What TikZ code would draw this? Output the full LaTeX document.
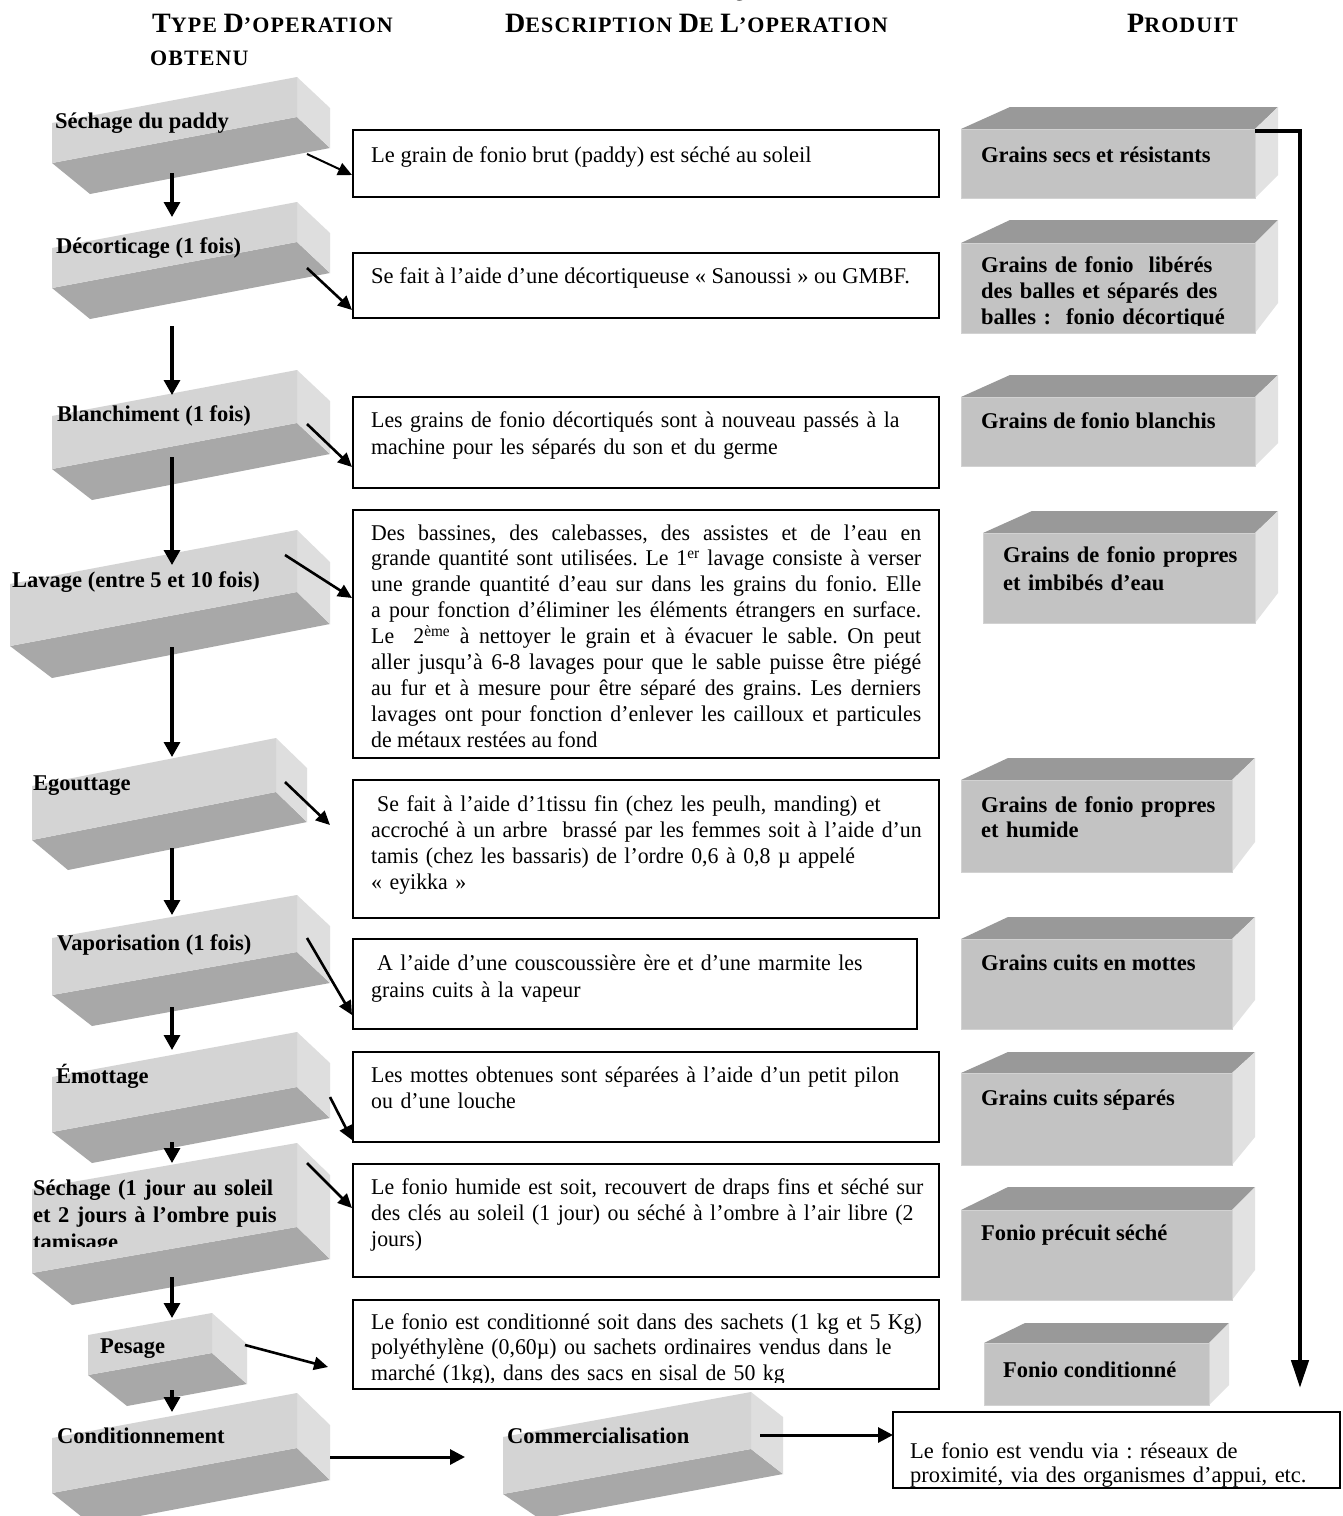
\documentclass[tikz,border=0pt]{standalone}
\usepackage{fontspec}
\setmainfont{Liberation Serif}
\newfontfamily\condfont{Liberation Serif}[FakeStretch=0.97]
\newfontfamily\hdrfont{Liberation Serif}[LetterSpace=5]
\usetikzlibrary{arrows.meta}
\definecolor{bfront}{RGB}{212,212,212}
\definecolor{bright}{RGB}{222,222,222}
\definecolor{bbottom}{RGB}{168,168,168}
\definecolor{pfrontc}{RGB}{195,195,195}
\definecolor{pedge}{RGB}{210,210,210}
\definecolor{ptopc}{RGB}{153,153,153}
\definecolor{prightc}{RGB}{226,226,226}
\newcommand\hbig[1]{{\fontsize{28}{28}\selectfont #1}}
\newcommand\hsml[1]{{\fontsize{22}{28}\selectfont #1}}
% operation block: xl, ytl, xtr, ytr, h, dx, dy, bottom-left x offset
\newcommand\opblock[8]{%
  \fill[bbottom] (#1,#2+#5) -- (#3,#4+#5) -- (#3+#6,#4+#5+#7) -- (#1+#8,#2+#5+#7) -- cycle;
  \fill[bright] (#3,#4) -- (#3+#6,#4+#7) -- (#3+#6,#4+#5+#7) -- (#3,#4+#5) -- cycle;
  \fill[bfront] (#1,#2) -- (#3,#4) -- (#3,#4+#5) -- (#1,#2+#5) -- cycle;
}
% product box: name, xl, yt, xr, yb, right-face bottom y, top dx left, top dx right, top dy
\newcommand\pbox[9]{%
  \fill[ptopc] (#2,#3) -- (#2+#7,#3-#9) -- (#4+#8,#3-#9) -- (#4,#3) -- cycle;
  \fill[prightc] (#4,#3) -- (#4+#8,#3-#9) -- (#4+#8,#6) -- (#4,#5) -- cycle;
  \node[pfront, anchor=north west, minimum width=#4-#2, minimum height=#5-#3] (#1) at (#2,#3) {};
}
\newcommand\jline[1]{\makebox[550pt][s]{#1}}
\tikzset{
  tx/.style={inner sep=0pt, anchor=base west, align=left, font=\fontsize{22.5}{#1}\selectfont\frenchspacing},
  tx/.default=26,
  txc/.style={inner sep=0pt, anchor=base west, align=left, font=\condfont\fontsize{22.5}{#1}\selectfont\frenchspacing},
  txc/.default=26,
  txb/.style={inner sep=0pt, anchor=base west, align=left, font=\fontsize{22.5}{#1}\selectfont\bfseries\frenchspacing},
  txb/.default=26,
  hdr/.style={inner sep=0pt, anchor=base west, font=\hdrfont\bfseries},
  pfront/.style={fill=pfrontc, draw=pedge, line width=1.2pt, inner sep=0pt},
  desc/.style={draw=black, line width=1.6pt, fill=white, inner sep=0pt},
  vfl/.style={line width=3.2pt, -{Triangle[length=15pt,width=16pt]}},
  sfl/.style={line width=2.6pt, -{Triangle[length=14pt,width=13pt]}},
  hfl/.style={line width=3pt, -{Triangle[length=15pt,width=15pt]}},
  bigfl/.style={line width=4.5pt, line join=miter, -{Triangle[length=28pt,width=17pt]}},
}
\begin{document}
\begin{tikzpicture}[x=1pt,y=-1pt]
\useasboundingbox[fill=white] (0,0) rectangle (1343,1516);

% headers
\node[hdr] (hq) at (722,-4) {\hbig{Q}};
\node[hdr] (h1) at (152,32) {\hbig{T}\hsml{YPE }\hbig{D}\hsml{’OPERATION}};
\node[hdr] (h2) at (150,65) {\hsml{OBTENU}};
\node[hdr] (h3) at (505,32) {\hbig{D}\hsml{ESCRIPTION }\hbig{D}\hsml{E }\hbig{L}\hsml{’OPERATION}};
\node[hdr] (h4) at (1127,32) {\hbig{P}\hsml{RODUIT}};

% operation blocks
\opblock{52}{123}{297}{77}{40}{33}{31}{38}
\opblock{52}{248}{297}{202}{40}{33}{31}{38}
\opblock{52}{416}{297}{370}{53}{33}{31}{40}
\opblock{10}{584}{297}{530}{62}{33}{32}{42}
\opblock{32}{786}{276}{738}{54}{31}{30}{36}
\opblock{52}{938}{297}{895}{57}{33}{31}{40}
\opblock{52}{1077}{297}{1032}{55}{33}{31}{40}
\opblock{32}{1189}{297}{1143}{84}{33}{32}{40}
\opblock{88}{1335}{212}{1313}{40}{35}{31}{39}
\opblock{52}{1438}{297}{1393}{55}{33}{32}{40}
\opblock{503}{1437}{751}{1392}{57}{32}{25}{37}

% operation labels
\node[txb] (l1) at (55,128) {Séchage du paddy};
\node[txb] (l2) at (56,253) {Décorticage (1 fois)};
\node[txb] (l3) at (57,421) {Blanchiment (1 fois)};
\node[txb] (l4) at (12,587) {Lavage (entre 5 et 10 fois)};
\node[txb] (l5) at (33,790) {Egouttage};
\node[txb] (l6) at (57,950) {Vaporisation (1 fois)};
\node[txb] (l7) at (56,1083) {Émottage};
\begin{scope}
  \clip (0,1150) rectangle (340,1246);
  \node[txb=27, text width=320] (l8) at (33,1195) {Séchage (1 jour au soleil\\ et 2 jours à l’ombre puis\\ tamisage};
\end{scope}
\node[txb] (l9) at (100,1353) {Pesage};
\node[txb] (l10) at (57,1443) {Conditionnement};
\node[txb] (l11) at (507,1443) {Commercialisation};

% description boxes
\node[desc, minimum width=586, minimum height=67] (d1) at (646,163.5) {};
\node[desc, minimum width=586, minimum height=65] (d2) at (646,285.5) {};
\node[desc, minimum width=586, minimum height=91] (d3) at (646,442.5) {};
\node[desc, minimum width=586, minimum height=248] (d4) at (646,634) {};
\node[desc, minimum width=586, minimum height=138] (d5) at (646,849) {};
\node[desc, minimum width=564, minimum height=90] (d6) at (635,984) {};
\node[desc, minimum width=586, minimum height=90] (d7) at (646,1097) {};
\node[desc, minimum width=586, minimum height=113] (d8) at (646,1220.5) {};
\node[desc, minimum width=586, minimum height=89] (d9) at (646,1344.5) {};
\node[desc, minimum width=447, minimum height=76] (d10) at (1116.5,1450) {};

% description texts
\node[tx] (x1) at (371,162) {Le grain de fonio brut (paddy) est séché au soleil};
\node[tx] (x2) at (371,283) {Se fait à l’aide d’une décortiqueuse « Sanoussi » ou GMBF.};
\node[txc=27, text width=620] (x3) at (371,427) {Les grains de fonio décortiqués sont à nouveau passés à la\\ machine pour les séparés du son et du germe};
\node[txc=25.9, text width=620] (x4) at (371,540) {\spaceskip=5.4pt plus 12pt minus 2pt\relax
\jline{Des bassines, des calebasses, des assistes et de l’eau en}\\
\jline{grande quantité sont utilisées. Le 1\textsuperscript{er} lavage consiste à verser}\\
\jline{une grande quantité d’eau sur dans les grains du fonio. Elle}\\
\jline{a pour fonction d’éliminer les éléments étrangers en surface.}\\
\jline{Le\ \ 2\textsuperscript{ème} à nettoyer le grain et à évacuer le sable. On peut}\\
\jline{aller jusqu’à 6-8 lavages pour que le sable puisse être piégé}\\
\jline{au fur et à mesure pour être séparé des grains. Les derniers}\\
\jline{lavages ont pour fonction d’enlever les cailloux et particules}\\
de métaux restées au fond};
\node[txc=26, text width=620] (x5) at (371,811) {\hspace*{6pt}Se fait à l’aide d’1tissu fin (chez les peulh, manding) et\\ accroché à un arbre\ \ brassé par les femmes soit à l’aide d’un\\ tamis (chez les bassaris) de l’ordre 0,6 à 0,8 µ appelé\\ « eyikka »};
\node[txc=27, text width=620] (x6) at (371,970) {\hspace*{6pt}A l’aide d’une couscoussière ère et d’une marmite les\\ grains cuits à la vapeur};
\node[txc=26, text width=620] (x7) at (371,1082) {Les mottes obtenues sont séparées à l’aide d’un petit pilon\\ ou d’une louche};
\node[txc=26, text width=620] (x8) at (371,1194) {Le fonio humide est soit, recouvert de draps fins et séché sur\\ des clés au soleil (1 jour) ou séché à l’ombre à l’air libre (2\\ jours)};
\begin{scope}
  \clip (353,1300) rectangle (939,1382);
  \node[txc=25.5, text width=620] (x9) at (371,1329) {Le fonio est conditionné soit dans des sachets (1 kg et 5 Kg)\\ polyéthylène (0,60µ) ou sachets ordinaires vendus dans le\\ marché (1kg), dans des sacs en sisal de 50 kg};
\end{scope}
\node[tx=24, text width=440] (x10) at (910,1458) {Le fonio est vendu via : réseaux de\\ proximité, via des organismes d’appui, etc.};

% product boxes
\pbox{p1}{961}{129}{1255}{198}{175}{49}{23}{22}
\pbox{p2}{961}{243}{1255}{333}{303}{49}{23}{23}
\pbox{p3}{961}{397}{1255}{466}{443}{49}{23}{22}
\pbox{p4}{983}{533}{1255}{623}{593}{49}{23}{22}
\pbox{p5}{961}{780}{1232}{872}{842}{47}{23}{22}
\pbox{p6}{961}{939}{1232}{1029}{1000}{47}{23}{22}
\pbox{p7}{961}{1073}{1232}{1165}{1137}{47}{23}{21}
\pbox{p8}{961}{1210}{1232}{1300}{1270}{47}{23}{23}
\pbox{p9}{984}{1343}{1209}{1405}{1385}{41}{20}{20}

% product texts
\node[txb] (t1) at (981,162) {Grains secs et résistants};
\begin{scope}
  \clip (961,243) rectangle (1255,325);
  \node[txb=26, text width=300] (t2) at (981,272) {\makebox[256pt][s]{Grains de fonio\ \ libérés}\\ \makebox[256pt][s]{des balles et séparés des}\\ balles :\ \ fonio décortiqué};
\end{scope}
\node[txb] (t3) at (981,428) {Grains de fonio blanchis};
\node[txb=28, text width=280] (t4) at (1003,562) {Grains de fonio propres\\ et imbibés d’eau};
\node[txb=25, text width=280] (t5) at (981,812) {Grains de fonio propres\\ et humide};
\node[txb] (t6) at (981,970) {Grains cuits en mottes};
\node[txb] (t7) at (981,1105) {Grains cuits séparés};
\node[txb] (t8) at (981,1240) {Fonio précuit séché};
\node[txb] (t9) at (1003,1377) {Fonio conditionné};

% arrow end points
\coordinate (v1s) at (172,173);  \coordinate (v1e) at (172,217);
\coordinate (v2s) at (172,326);  \coordinate (v2e) at (172,395);
\coordinate (v3s) at (172,457);  \coordinate (v3e) at (172,565);
\coordinate (v4s) at (172,647);  \coordinate (v4e) at (172,757);
\coordinate (v5s) at (172,848);  \coordinate (v5e) at (172,915);
\coordinate (v6s) at (172,1007); \coordinate (v6e) at (172,1050);
\coordinate (v7s) at (172,1142); \coordinate (v7e) at (172,1163);
\coordinate (v8s) at (172,1277); \coordinate (v8e) at (172,1318);
\coordinate (v9s) at (172,1390); \coordinate (v9e) at (172,1412);
\coordinate (s1s) at (307,154);  \coordinate (s1e) at (352,175);
\coordinate (s2s) at (307,268);  \coordinate (s2e) at (352,310);
\coordinate (s3s) at (307,424);  \coordinate (s3e) at (352,467);
\coordinate (s4s) at (285,555);  \coordinate (s4e) at (352,598);
\coordinate (s5s) at (285,782);  \coordinate (s5e) at (330,825);
\coordinate (s6s) at (307,938);  \coordinate (s6e) at (352,1015);
\coordinate (s7s) at (330,1097); \coordinate (s7e) at (352,1140);
\coordinate (s8s) at (307,1163); \coordinate (s8e) at (352,1208);
\coordinate (s9s) at (245,1345); \coordinate (s9e) at (328,1367);
\coordinate (h1s) at (330,1457); \coordinate (h1e) at (465,1457);
\coordinate (h2s) at (760,1435); \coordinate (h2e) at (893,1435);
\coordinate (bgs) at (1255,131); \coordinate (bgc) at (1300,131); \coordinate (bge) at (1300,1388);

% vertical arrows
\foreach \i in {1,...,9} { \draw[vfl] (v\i s) -- (v\i e); }
% side arrows
\draw[sfl, line width=2pt] (s1s) -- (s1e);
\foreach \i in {2,...,9} { \draw[sfl] (s\i s) -- (s\i e); }
% horizontal arrows
\draw[hfl] (h1s) -- (h1e);
\draw[hfl] (h2s) -- (h2e);
% long product arrow
\draw[bigfl] (bgs) -- (bgc) -- (bge);
\end{tikzpicture}
\end{document}
